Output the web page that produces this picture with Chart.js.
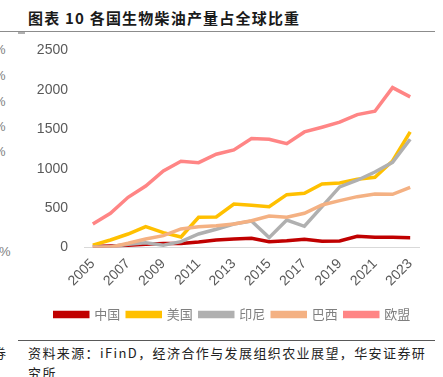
<!DOCTYPE html>
<html>
<head>
<meta charset="utf-8">
<script src="https://cdn.jsdelivr.net/npm/chart.js@4"></script>
<style>
  html, body { margin: 0; padding: 0; background: #fff; }
  body { width: 443px; height: 377px; position: relative; overflow: hidden;
         font-family: "Noto Sans CJK SC", sans-serif; }
  .abs { position: absolute; white-space: nowrap; }
  #title { left: 28px; top: 7px; font-size: 15px; font-weight: bold; color: #1a1a1a; letter-spacing: 1.2px; }
  #rule1 { left: 0; top: 31px; width: 435px; height: 1px; background: #8c8c8c; }
  #rule1b { left: 18px; top: 32px; width: 7px; height: 2px; background: #b0b0b0; }
  #rule2 { left: 18px; top: 340px; width: 417px; height: 1px; background: #595959; }
  .src { font-size: 13px; color: #222; letter-spacing: 1.4px; }
  .frag { font-family: "Liberation Sans", Arial, sans-serif; font-size: 13px; color: #7f7f7f; }
  #wrap { left: 0; top: 26px; width: 443px; height: 306px; }
</style>
</head>
<body>
<div class="abs" id="title">图表 10 各国生物柴油产量占全球比重</div>
<div class="abs" id="rule1"></div>
<div class="abs" id="rule1b"></div>
<div class="abs frag" style="left:-6px;top:42px">%</div>
<div class="abs frag" style="left:-6px;top:68px">%</div>
<div class="abs frag" style="left:-6px;top:94px">%</div>
<div class="abs frag" style="left:-6px;top:119px">%</div>
<div class="abs frag" style="left:-6px;top:144px">%</div>
<div class="abs frag" style="left:-1px;top:244px">%</div>
<div class="abs" id="wrap"><canvas id="myChart" width="443" height="306"></canvas></div>
<div class="abs" id="rule2"></div>
<div class="abs src" style="left:-7px;top:343px">券</div>
<div class="abs src" style="left:28px;top:343px">资料来源：iFinD，经济合作与发展组织农业展望，华安证券研</div>
<div class="abs src" style="left:28px;top:363px">究所</div>
<script>
const years = Array.from({ length: 19 }, (_, i) => String(2005 + i));
const yTicks = [0, 500, 1000, 1500, 2000, 2500];

const china = [12, 20, 30, 40, 50, 50, 70, 95, 108, 117, 74, 86, 104, 79, 83, 142, 129, 129, 125];
const usa = [30, 95, 171, 264, 188, 133, 383, 387, 552, 535, 518, 670, 688, 806, 819, 865, 890, 1098, 1466];
const indonesia = [5, 10, 40, 60, 28, 74, 171, 231, 298, 336, 125, 349, 269, 518, 768, 853, 958, 1081, 1373];
const brazil = [0, 5, 53, 108, 150, 235, 264, 277, 298, 340, 400, 383, 434, 539, 594, 645, 679, 675, 764];
const eu = [298, 434, 637, 780, 971, 1094, 1076, 1183, 1237, 1381, 1373, 1317, 1466, 1525, 1589, 1686, 1728, 2028, 1910];

const names = ["中国", "美国", "印尼", "巴西", "欧盟"];
const colors = ["#C00000", "#FFC000", "#B0B0B0", "#F4B183", "#FF8585"];
const series = [china, usa, indonesia, brazil, eu];

// nudge the legend a few px right, like the original
const legendShift = {
  id: "legendShift",
  afterLayout(chart) {
    chart.legend.left += 6;
    chart.legend.right += 6;
  },
};

const ctx = document.getElementById("myChart");

const myChart = new Chart(ctx, {
  type: "line",
  plugins: [legendShift],
  data: {
    labels: years,
    datasets: series.map((d, i) => ({
      label: names[i],
      data: d,
      borderColor: colors[i],
      backgroundColor: colors[i],
      borderWidth: 3.5,
      pointRadius: 0,
      tension: 0,
      order: series.length - i,
    })),
  },
  options: {
    responsive: false,
    animation: false,
    layout: {
      padding: { left: 34, right: 24, top: 1, bottom: 1 },
    },
    plugins: {
      tooltip: { enabled: false },
      legend: {
        position: "bottom",
        labels: {
          boxWidth: 33,
          boxHeight: 4,
          padding: 7,
          color: "#7f7f7f",
          font: { family: "Noto Sans CJK SC", size: 13 },
          sort: (a, b) => a.datasetIndex - b.datasetIndex,
        },
      },
    },
    scales: {
      y: {
        min: 0,
        max: 2500,
        afterFit: (s) => { s.width = 50; },
        afterBuildTicks: (s) => { s.ticks = yTicks.map((v) => ({ value: v })); },
        grid: { display: false, drawTicks: false },
        border: { display: false },
        ticks: {
          padding: 16,
          color: "#595959",
          font: { family: "Liberation Sans", size: 14 },
          callback: (v) => String(v),
        },
      },
      x: {
        offset: true,
        afterFit: (s) => { s.height = 53.5; },
        grid: { display: false, drawTicks: false },
        border: { display: true, color: "#D9D9D9", width: 1 },
        ticks: {
          autoSkip: false,
          maxRotation: 45,
          minRotation: 45,
          padding: 8,
          color: "#595959",
          font: { family: "Liberation Sans", size: 14 },
          callback: (v, i) => (i % 2 === 0 ? years[i] : ""),
        },
      },
    },
  },
});
</script>
</body>
</html>
